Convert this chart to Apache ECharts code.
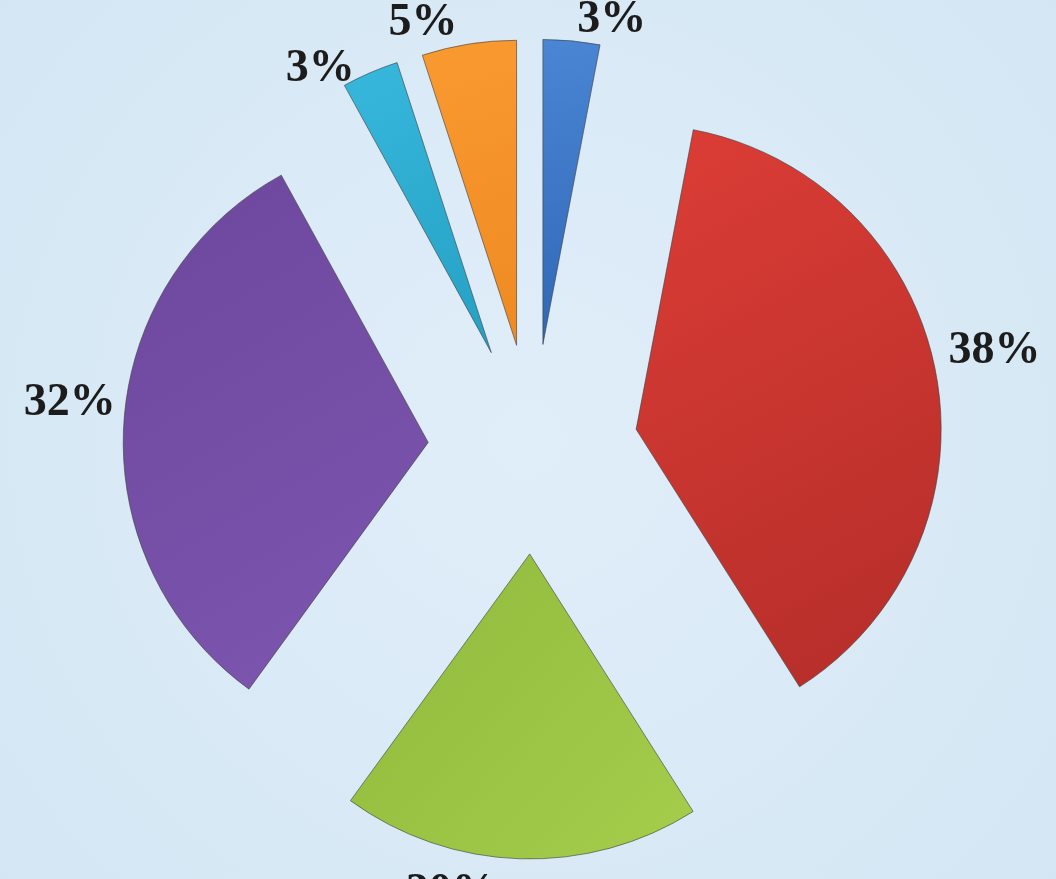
<!DOCTYPE html>
<html><head><meta charset="utf-8">
<script src="https://cdn.jsdelivr.net/npm/echarts@6/dist/echarts.min.js"></script>
<style>html,body{margin:0;padding:0;background:#dae9f6;}#c{width:1056px;height:879px;}</style>
</head><body><div id="c"></div>
<script>
const categories = ['A', 'B', 'C', 'D', 'E', 'F'];
const values = [3, 38, 19, 32, 3, 5];
const labelTexts = ['3%', '38%', '20%', '32%', '3%', '5%'];
const colors = [
  ['#4a86d4', '#2f67b5'],
  ['#dc3d36', '#b42d29'],
  ['#8fba3c', '#a6cd4c'],
  ['#6d479c', '#7d57b0'],
  ['#36b8dc', '#25a0c4'],
  ['#f99a30', '#ef8a22']
];
const labelShift = [[0, -13], [0, -20], [-17, 26], [0, -20], [37, -22], [-5, -13]];
const chart = echarts.init(document.getElementById('c'));
chart.setOption({
  backgroundColor: {
    type: 'radial', x: 0.5, y: 0.5, r: 0.8,
    colorStops: [{offset: 0, color: '#e0eef9'}, {offset: 1, color: '#d4e6f4'}]
  },
  series: [{
    type: 'pie',
    center: [533, 449],
    radius: [0, 305],
    startAngle: 90,
    clockwise: true,
    selectedMode: 'multiple',
    selectedOffset: 105,
    animation: false,
    label: {
      show: true, position: 'outside',
      fontFamily: 'Liberation Serif', fontWeight: 'bold', fontSize: 46, color: '#1c1c1c',
      formatter: p => labelTexts[p.dataIndex]
    },
    labelLine: { show: false, length: 8, length2: 0 },
    labelLayout: p => ({ dx: labelShift[p.dataIndex][0], dy: labelShift[p.dataIndex][1] }),
    emphasis: { disabled: true },
    data: categories.map((c, i) => ({
      name: c, value: values[i], selected: true,
      itemStyle: {
        color: {
          type: 'linear', x: 0, y: 0, x2: 1, y2: 1,
          colorStops: [{offset: 0, color: colors[i][0]}, {offset: 1, color: colors[i][1]}]
        },
        borderColor: 'rgba(60,60,60,0.6)', borderWidth: 1
      }
    }))
  }]
});
</script></body></html>
